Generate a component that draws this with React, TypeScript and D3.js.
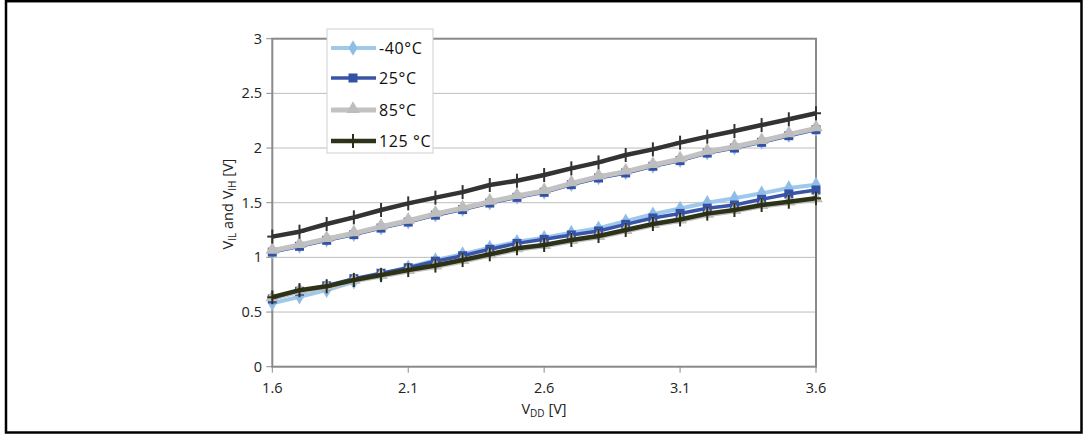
import React from "react";
import * as d3 from "d3";

// Supply voltage sweep (V)
const vdd = [1.6, 1.7, 1.8, 1.9, 2.0, 2.1, 2.2, 2.3, 2.4, 2.5, 2.6, 2.7, 2.8, 2.9, 3.0, 3.1, 3.2, 3.3, 3.4, 3.5, 3.6];

// Input-low thresholds V_IL per temperature
const vilM40 = [0.58, 0.64, 0.7, 0.777, 0.84, 0.91, 0.975, 1.03, 1.089, 1.143, 1.18, 1.226, 1.266, 1.33, 1.395, 1.447, 1.5, 1.54, 1.586, 1.635, 1.665];
const vil25 = [0.62, 0.69, 0.74, 0.805, 0.855, 0.905, 0.965, 1.015, 1.074, 1.128, 1.165, 1.205, 1.241, 1.302, 1.36, 1.402, 1.45, 1.479, 1.531, 1.58, 1.616];
const vil85 = [0.625, 0.69, 0.725, 0.785, 0.83, 0.875, 0.915, 0.965, 1.018, 1.073, 1.103, 1.15, 1.185, 1.24, 1.295, 1.337, 1.39, 1.423, 1.469, 1.5, 1.53];
const vil125 = [0.635, 0.7, 0.735, 0.793, 0.838, 0.884, 0.925, 0.976, 1.028, 1.083, 1.113, 1.159, 1.195, 1.25, 1.305, 1.347, 1.4, 1.433, 1.479, 1.509, 1.54];

// Input-high thresholds V_IH per temperature
const vihM40 = [1.052, 1.105, 1.16, 1.212, 1.272, 1.327, 1.39, 1.441, 1.501, 1.553, 1.599, 1.669, 1.73, 1.776, 1.837, 1.889, 1.958, 2.004, 2.056, 2.117, 2.172];
const vih25 = [1.048, 1.101, 1.156, 1.208, 1.268, 1.323, 1.386, 1.437, 1.497, 1.549, 1.595, 1.665, 1.726, 1.772, 1.833, 1.885, 1.954, 2.0, 2.052, 2.113, 2.168];
const vih85 = [1.06, 1.113, 1.168, 1.22, 1.28, 1.335, 1.398, 1.449, 1.509, 1.561, 1.607, 1.677, 1.738, 1.784, 1.845, 1.897, 1.966, 2.012, 2.064, 2.125, 2.18];
const vih125 = [1.19, 1.235, 1.305, 1.366, 1.433, 1.494, 1.546, 1.597, 1.662, 1.701, 1.753, 1.814, 1.869, 1.936, 1.988, 2.049, 2.104, 2.156, 2.21, 2.263, 2.318];

const legendLabels = ["-40°C", "25°C", "85°C", "125 °C"];
const yTicks = [0, 0.5, 1, 1.5, 2, 2.5, 3];
const xTicks = [1.6, 2.1, 2.6, 3.1, 3.6];

type Marker = "diamond" | "square" | "triangle" | "plus";

const FONT = "'Open Sans', 'Noto Sans', sans-serif";

const left = 272.3, right = 816, top = 38.7, bottom = 366.7;
const x = d3.scaleLinear().domain([1.6, 3.6]).range([left, right]);
const y = d3.scaleLinear().domain([0, 3]).range([bottom, top]);

const styles: { color: string; width: number; marker: Marker; mcolor: string }[] = [
  { color: "#9fc9ec", width: 4, marker: "diamond", mcolor: "#8fbde6" },
  { color: "#3a55a8", width: 3.5, marker: "square", mcolor: "#3451a6" },
  { color: "#c2c2c2", width: 5, marker: "triangle", mcolor: "#bdbdbd" },
  { color: "#2d3318", width: 4.5, marker: "plus", mcolor: "#2a2f16" },
];

function MarkerShape({ kind, cx, cy, color }: { kind: Marker; cx: number; cy: number; color: string }) {
  if (kind === "diamond") {
    const p = d3.symbol(d3.symbolDiamond, 70)();
    return <path d={p || ""} transform={`translate(${cx},${cy})`} fill={color} />;
  }
  if (kind === "square") {
    return <rect x={cx - 4.5} y={cy - 4.5} width={9} height={9} fill={color} />;
  }
  if (kind === "triangle") {
    const p = d3.symbol(d3.symbolTriangle, 80)();
    return <path d={p || ""} transform={`translate(${cx},${cy - 1})`} fill={color} />;
  }
  return (
    <g stroke={color} strokeWidth={2}>
      <line x1={cx} x2={cx} y1={cy - 7} y2={cy + 7} />
      <line x1={cx - 5} x2={cx + 5} y1={cy} y2={cy} />
    </g>
  );
}

function Series({ values, idx, override }: { values: number[]; idx: number; override?: string }) {
  const s = styles[idx];
  const color = override || s.color;
  const mcolor = override || s.mcolor;
  const line = d3
    .line<number>()
    .x((_, i) => x(vdd[i]))
    .y((v) => y(v));
  return (
    <g>
      <path d={line(values) || ""} fill="none" stroke={color} strokeWidth={s.width} strokeLinejoin="round" />
      {values.map((v, i) => (
        <MarkerShape key={i} kind={s.marker} cx={x(vdd[i])} cy={y(v)} color={mcolor} />
      ))}
    </g>
  );
}

export default function App() {
  return (
    <svg
      width={1083}
      height={434}
      style={{ position: "absolute", left: 0, top: 0, background: "#fff" }}
      fontFamily={FONT}
    >
      <rect x={0} y={0} width={1083} height={434} fill="#fff" />
      {/* outer frame */}
      <rect x={6} y={1.2} width={1075.5} height={431.3} fill="none" stroke="#000" strokeWidth={2.5} />

      {/* horizontal grid */}
      {yTicks.map((t) => (
        <line key={t} x1={left} x2={right} y1={y(t)} y2={y(t)} stroke="#bdbdbd" strokeWidth={1} />
      ))}
      {/* plot area border */}
      <rect x={left} y={top} width={right - left} height={bottom - top} fill="none" stroke="#8a8a8a" strokeWidth={2} />

      {/* y ticks & labels */}
      {yTicks.map((t) => (
        <g key={t}>
          <line x1={left - 6} x2={left} y1={y(t)} y2={y(t)} stroke="#8a8a8a" strokeWidth={1} />
          <text x={262} y={y(t)} dy="0.35em" textAnchor="end" fontSize={14.5} fill="#222">
            {t}
          </text>
        </g>
      ))}
      {/* x ticks & labels */}
      {xTicks.map((t) => (
        <g key={t}>
          <line x1={x(t)} x2={x(t)} y1={bottom} y2={bottom + 6} stroke="#8a8a8a" strokeWidth={1} />
          <text x={x(t)} y={393} textAnchor="middle" fontSize={14.5} fill="#222">
            {t.toFixed(1)}
          </text>
        </g>
      ))}

      {/* axis titles */}
      <text x={544} y={414} textAnchor="middle" fontSize={14.5} fill="#222">
        V<tspan fontSize={10} dy={3}>DD</tspan>
        <tspan dy={-3}> [V]</tspan>
      </text>
      <text transform="translate(233,204) rotate(-90)" textAnchor="middle" fontSize={14.5} fill="#222">
        V<tspan fontSize={10} dy={3}>IL</tspan>
        <tspan dy={-3}> and V</tspan>
        <tspan fontSize={10} dy={3}>IH</tspan>
        <tspan dy={-3}> [V]</tspan>
      </text>

      {/* data */}
      <g>
        <Series values={vilM40} idx={0} />
        <Series values={vihM40} idx={0} />
        <Series values={vil25} idx={1} />
        <Series values={vih25} idx={1} />
        <Series values={vil85} idx={2} />
        <Series values={vih85} idx={2} />
        <Series values={vil125} idx={3} />
        <Series values={vih125} idx={3} override="#333333" />
      </g>

      {/* legend */}
      <g>
        <rect x={327} y={29} width={106} height={124} fill="#fff" stroke="#cfcfcf" strokeWidth={1} />
        {legendLabels.map((lab, i) => {
          const ly = [48, 78, 110, 141][i];
          const s = styles[i];
          return (
            <g key={lab}>
              <line x1={331} x2={376} y1={ly} y2={ly} stroke={s.color} strokeWidth={s.width} />
              <MarkerShape kind={s.marker} cx={353} cy={ly} color={s.mcolor} />
              <text x={379} y={ly} dy="0.36em" fontSize={16} letterSpacing={0.6} fill="#111">
                {lab}
              </text>
            </g>
          );
        })}
      </g>
    </svg>
  );
}
